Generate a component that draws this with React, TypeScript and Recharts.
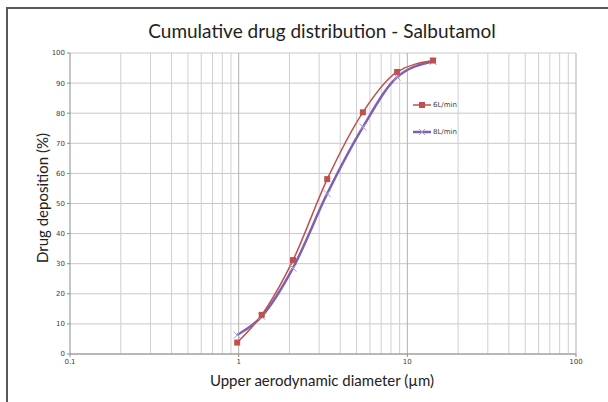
import React from 'react';
import { LineChart, Line, XAxis, YAxis, CartesianGrid, ReferenceLine } from 'recharts';

const diameters = [0.98, 1.37, 2.1, 3.35, 5.45, 8.7, 14.2];
const flow6 = [3.8, 13.0, 31.2, 58.1, 80.3, 93.7, 97.5];
const flow8 = [6.3, 12.5, 28.6, 53.3, 75.4, 92.0, 97.2];

const xTicks = [0.1, 1, 10, 100];
const yTicks = [0, 10, 20, 30, 40, 50, 60, 70, 80, 90, 100];
const minorX = [0.2, 0.3, 0.4, 0.5, 0.6, 0.7, 0.8, 0.9, 2, 3, 4, 5, 6, 7, 8, 9, 20, 30, 40, 50, 60, 70, 80, 90];

const RED = '#c0504d';
const PURPLE = '#7f5fb0';

const data = diameters.map((d, i) => ({ d, s6: flow6[i], s8: flow8[i] }));

const SquareDot = (props: any) => {
  const { cx, cy } = props;
  if (cx == null || cy == null) return null;
  return <rect x={cx - 3} y={cy - 3} width={6} height={6} fill={RED} />;
};

const CrossDot = (props: any) => {
  const { cx, cy } = props;
  if (cx == null || cy == null) return null;
  return (
    <g stroke="#a99bd0" strokeWidth={1}>
      <line x1={cx - 3.5} y1={cy - 3.5} x2={cx + 3.5} y2={cy + 3.5} />
      <line x1={cx - 3.5} y1={cy + 3.5} x2={cx + 3.5} y2={cy - 3.5} />
    </g>
  );
};

const LegendBox = () => (
  <div style={{ position: 'absolute', left: 413, top: 91, fontFamily: 'DejaVu Sans, sans-serif', fontSize: 7, color: '#404040' }}>
    {[
      { name: '6L/min', color: RED, w: 1.5, sq: true },
      { name: '8L/min', color: PURPLE, w: 2.5, sq: false },
    ].map((it) => (
      <div key={it.name} style={{ display: 'flex', alignItems: 'center', height: 27 }}>
        <svg width={20} height={8}>
          <line x1={0} y1={4} x2={18} y2={4} stroke={it.color} strokeWidth={it.w} />
          {it.sq ? (
            <rect x={6} y={1} width={6} height={6} fill={RED} />
          ) : (
            <g stroke="#a99bd0" strokeWidth={1}>
              <line x1={6} y1={1} x2={12} y2={7} />
              <line x1={6} y1={7} x2={12} y2={1} />
            </g>
          )}
        </svg>
        <span>{it.name}</span>
      </div>
    ))}
  </div>
);

export default function App() {
  return (
    <div style={{ position: 'absolute', left: 0, top: 0, width: 608, height: 402, background: '#fff', overflow: 'hidden' }}>
      <div style={{ position: 'absolute', left: 6, top: 7, width: 620, height: 420, borderLeft: '2px solid #595959', borderTop: '2px solid #595959' }} />
      <div style={{ position: 'absolute', left: 0, width: 644, top: 19, textAlign: 'center', fontFamily: 'Lato, sans-serif', fontSize: 19, color: '#222' }}>
        Cumulative drug distribution - Salbutamol
      </div>
      <LineChart width={608} height={402} data={data} margin={{ top: 53, right: 32, left: 10, bottom: 18 }}>
        <CartesianGrid vertical={false} stroke="#c8c8c8" />
        {minorX.map((v) => (
          <ReferenceLine key={v} x={v} stroke="#cfcfcf" strokeWidth={1} />
        ))}
        {xTicks.slice(1).map((v) => (
          <ReferenceLine key={'M' + v} x={v} stroke="#b0b0b0" strokeWidth={1} />
        ))}
        <XAxis
          dataKey="d"
          type="number"
          scale="log"
          domain={[0.1, 100]}
          ticks={xTicks}
          allowDataOverflow
          height={30}
          stroke="#8c8c8c"
          tickSize={3}
          tick={{ fontSize: 7, fill: '#404040', fontFamily: 'DejaVu Sans, sans-serif' }}
          tickFormatter={(v) => String(v)}
        />
        <YAxis
          type="number"
          domain={[0, 100]}
          ticks={yTicks}
          width={60}
          stroke="#8c8c8c"
          tickSize={3}
          tick={{ fontSize: 7, fill: '#404040', fontFamily: 'DejaVu Sans, sans-serif' }}
        />
        <Line type="monotone" dataKey="s8" name="8L/min" stroke={PURPLE} strokeWidth={2.5} dot={<CrossDot />} isAnimationActive={false} />
        <Line type="monotone" dataKey="s6" name="6L/min" stroke={RED} strokeWidth={1.5} dot={<SquareDot />} isAnimationActive={false} />
      </LineChart>
      <LegendBox />
      <div style={{ position: 'absolute', left: 0, width: 644, top: 371, textAlign: 'center', fontFamily: 'Lato, sans-serif', fontSize: 15, color: '#222' }}>
        Upper aerodynamic diameter (µm)
      </div>
      <div style={{ position: 'absolute', left: 42, top: 198, transform: 'translate(-50%, -50%) rotate(-90deg)', whiteSpace: 'nowrap', fontFamily: 'Lato, sans-serif', fontSize: 15, color: '#222' }}>
        Drug deposition (%)
      </div>
    </div>
  );
}
